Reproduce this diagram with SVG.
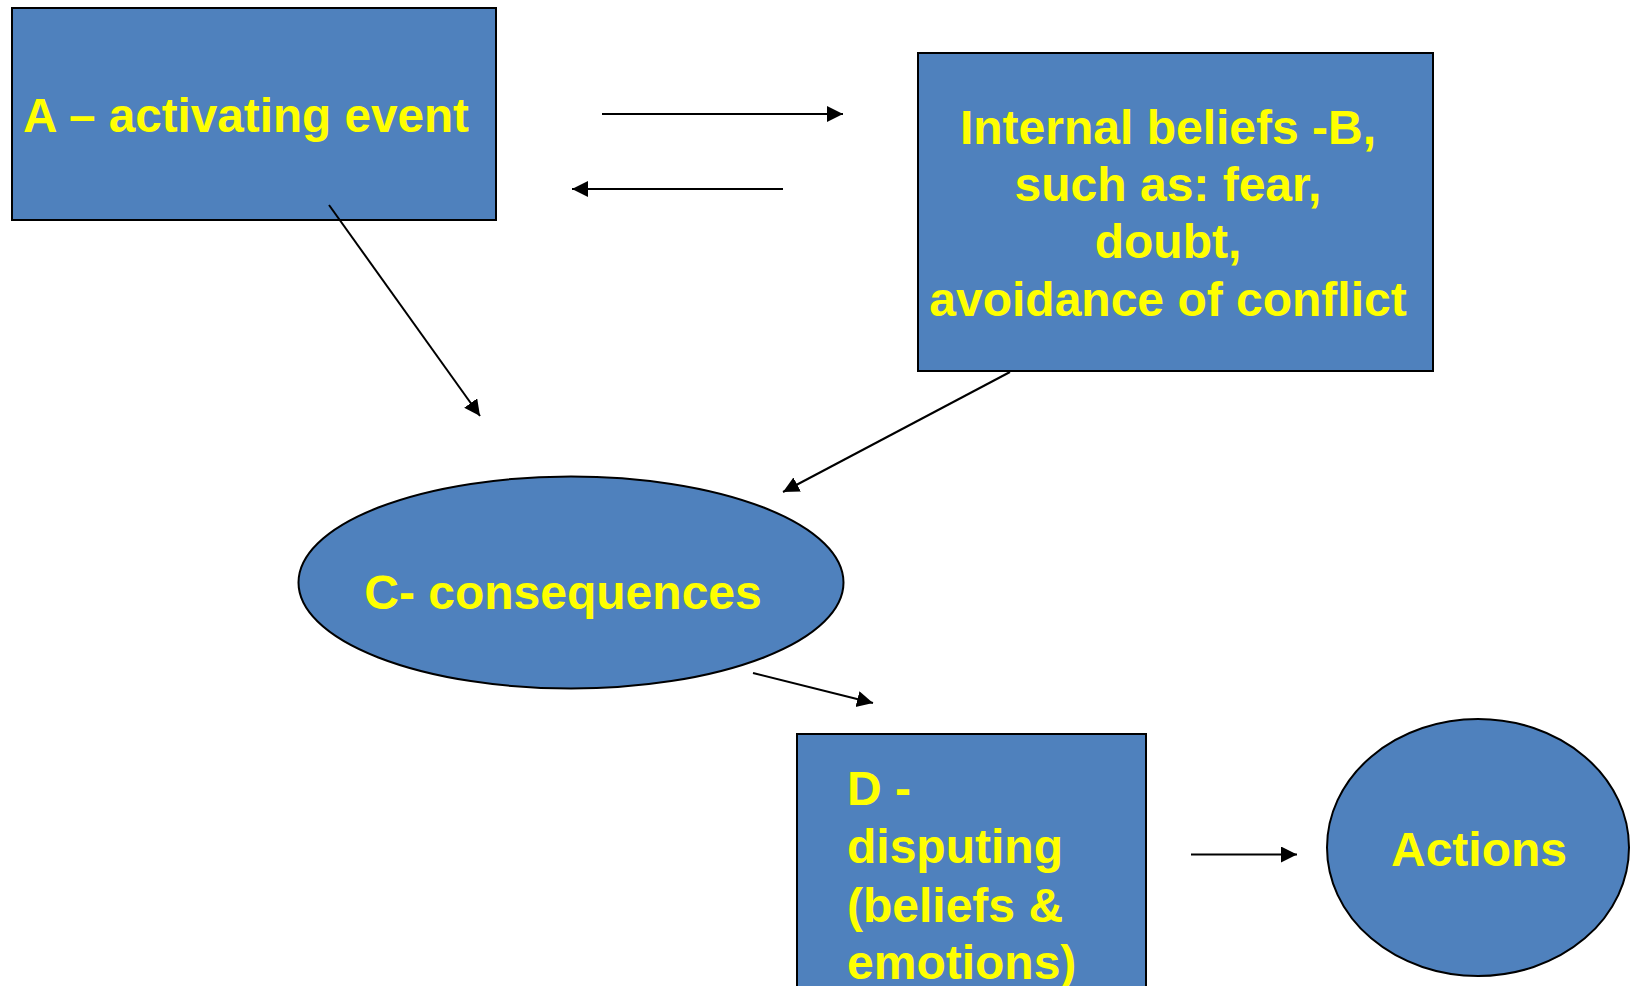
<svg xmlns="http://www.w3.org/2000/svg" width="1631" height="986" viewBox="0 0 1631 986">
<style>
.shape{fill:#4F81BD;stroke:#000;stroke-width:2}
.lbl{font-family:"Liberation Sans",Arial,sans-serif;font-weight:bold;font-size:48px;fill:#FFFF00}
.mid{text-anchor:middle}
.conn{stroke:#000;stroke-width:2;fill:none;marker-end:url(#arr)}
</style>
<defs>
<marker id="arr" markerUnits="userSpaceOnUse" markerWidth="17" markerHeight="17" refX="16" refY="8" orient="auto">
<path d="M0,0 L16,8 L0,16 z" fill="#000"/>
</marker>
</defs>
<rect width="1631" height="986" fill="#fff"/>
<g id="nodeA">
<rect class="shape" x="12" y="8" width="484" height="212"/>
<text class="lbl" x="23" y="132" textLength="446" lengthAdjust="spacingAndGlyphs">A – activating event</text>
</g>
<g id="nodeB">
<rect class="shape" x="918" y="53" width="515" height="318"/>
<text class="lbl mid" x="1168" y="144">Internal beliefs -B,</text>
<text class="lbl mid" x="1168" y="201">such as: fear,</text>
<text class="lbl mid" x="1168" y="258">doubt,</text>
<text class="lbl mid" x="1168" y="316">avoidance of conflict</text>
</g>
<g id="nodeC">
<ellipse class="shape" cx="571" cy="582.5" rx="272.5" ry="106"/>
<text class="lbl mid" x="563" y="609">C- consequences</text>
</g>
<g id="nodeD">
<rect class="shape" x="797" y="734" width="349" height="270"/>
<text class="lbl" x="847" y="805">D -</text>
<text class="lbl" x="847" y="863">disputing</text>
<text class="lbl" x="847" y="922">(beliefs &amp;</text>
<text class="lbl" x="847" y="979">emotions)</text>
</g>
<g id="nodeActions">
<ellipse class="shape" cx="1478" cy="847.5" rx="151" ry="128.5"/>
<text class="lbl mid" x="1479" y="866">Actions</text>
</g>
<g id="connectors">
<line class="conn" x1="602" y1="114" x2="843" y2="114"/>
<line class="conn" x1="783" y1="189" x2="572" y2="189"/>
<line class="conn" x1="329" y1="205" x2="480" y2="416"/>
<line class="conn" x1="1010" y1="372" x2="783" y2="492"/>
<line class="conn" x1="753" y1="673" x2="873" y2="703"/>
<line class="conn" x1="1191" y1="854.5" x2="1297" y2="854.5"/>
</g>
</svg>
